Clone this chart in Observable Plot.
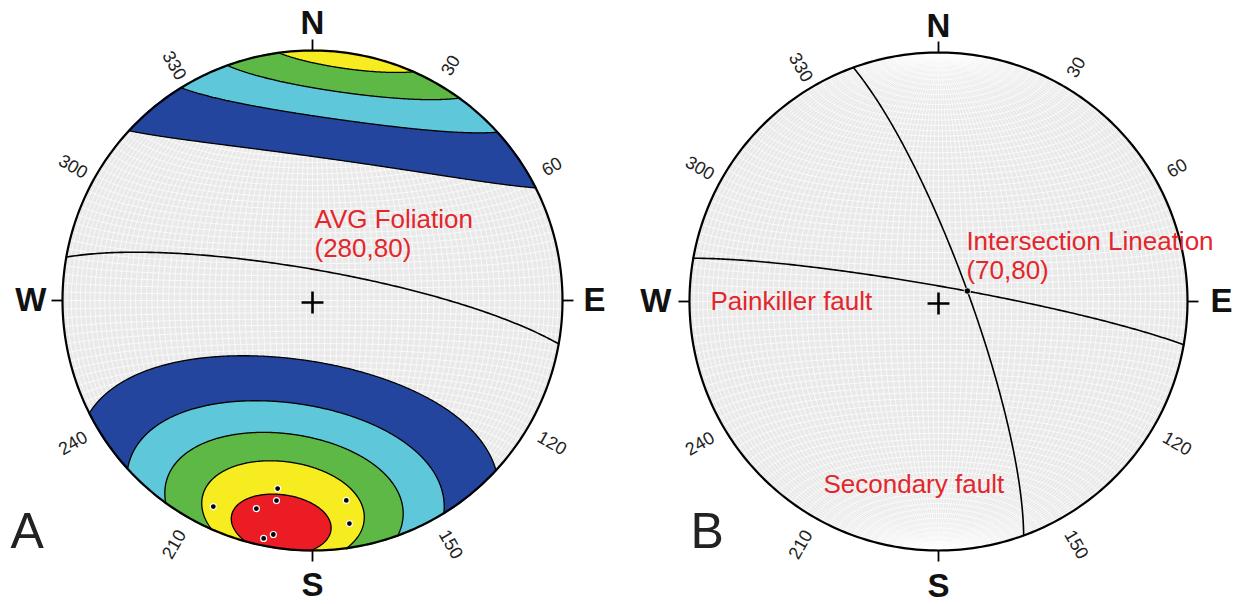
<!DOCTYPE html>
<html><head><meta charset="utf-8">
<script src="https://cdn.jsdelivr.net/npm/d3@7"></script>
<script src="https://cdn.jsdelivr.net/npm/@observablehq/plot@0.6"></script>
<style>
body{margin:0;background:#fff;}
#row{display:flex;width:1241px;height:604px;overflow:hidden;}
#row svg{display:block;flex:none;}
</style></head><body><div id="row"></div>
<script>
// ---------------- data ----------------
const compassLabels = ["N", "E", "S", "W"];
const compassAzimuths = [0, 90, 180, 270];
const azimuthTicks = [30, 60, 120, 150, 210, 240, 300, 330];

// Net A: average foliation plane (strike, dip; right-hand rule)
const foliationStrike = [280];
const foliationDip = [80];
// Net A: poles to foliation (trend, plunge)
const poleTrend = [205.7, 190.5, 190.2, 195.1, 170.4, 170.6, 191.6, 189.5];
const polePlunge = [9.4, 24.5, 19.8, 14.9, 20.0, 10.5, 3.2, 5.7];
// Net A: density contours as cones (axis trend/plunge, half angle)
const contourTrend = [188, 188, 188, 188, 188];
const contourPlunge = [14, 14, 14, 14, 10];
const contourAngle = [56.4, 41.7, 31, 21, 12.5];
const contourWraps = [true, true, true, true, false];

// Net B: faults (strike, dip; right-hand rule) and intersection lineation
const faultNames = ["Painkiller fault", "Secondary fault"];
const faultStrike = [280, 340];
const faultDip = [85, 80];
const lineationTrend = [70];
const lineationPlunge = [80];

// ---------------- styles ----------------
const contourColors = ["#23459d", "#5ec8da", "#5db846", "#f6ec20", "#ec1c24"];
const RED = "#e3262c";
const FONT = "'Liberation Sans', Arial, Helvetica, sans-serif";

// ---------------- equal-area (Schmidt) lower hemisphere projection ----------------
const rad = Math.PI / 180;
function vec(trend, plunge) {
  const t = trend * rad, p = plunge * rad;
  return [Math.cos(p) * Math.cos(t), Math.cos(p) * Math.sin(t), Math.sin(p)];
}
function project(v) {
  let [n, e, d] = v;
  if (d < 0) { n = -n; e = -e; d = -d; }
  const k = 1 / Math.sqrt(1 + d);
  return [e * k, n * k];
}
function unproject(x, y) {
  let r2 = x * x + y * y;
  if (r2 > 1) { const s = 1 / Math.sqrt(r2); x *= s; y *= s; r2 = 1; }
  const d = 1 - r2, k = Math.sqrt(1 + d);
  return [y * k, x * k, d];
}
function greatCircle(strike, dip) {
  const s = vec(strike, 0), dv = vec(strike + 90, dip);
  return d3.range(0, 180.001, 1).map(l => {
    const c = Math.cos(l * rad), sn = Math.sin(l * rad);
    const [x, y] = project([c * s[0] + sn * dv[0], c * s[1] + sn * dv[1], c * s[2] + sn * dv[2]]);
    return {x, y};
  });
}
function netGrid() {
  const rows = [];
  let id = 0;
  for (let dip = 2; dip <= 90; dip += 2) {
    for (const strike of (dip === 90 ? [0] : [0, 180])) {
      for (const p of greatCircle(strike, dip)) rows.push({id, ...p});
      id++;
    }
  }
  for (let b = 2; b < 180; b += 2) {
    for (let f = 0; f <= 180; f += 2) {
      const [x, y] = project([Math.cos(b * rad), Math.sin(b * rad) * Math.cos(f * rad), Math.sin(b * rad) * Math.sin(f * rad)]);
      rows.push({id, x, y});
    }
    id++;
  }
  return rows;
}
const grid = netGrid();
const primitive = d3.range(0, 360.001, 1).map(a => { const [x, y] = project(vec(a, 0)); return {x, y}; });

function capValue(i) {
  const c = vec(contourTrend[i], contourPlunge[i]);
  const wrap = contourWraps[i];
  return (x, y) => {
    if (x * x + y * y > 1.04 * 1.04) return -2; // outside the net (hidden under the mask)
    const v = unproject(x, y);
    const dot = v[0] * c[0] + v[1] * c[1] + v[2] * c[2];
    return wrap ? Math.abs(dot) : dot;
  };
}

// ---------------- common net pieces ----------------
function baseMarks(R) {
  return [
    Plot.dot([{x: 0, y: 0}], {x: "x", y: "y", r: R, fill: "#e9e9e9", stroke: "none"}),
    Plot.line(grid, {x: "x", y: "y", z: "id", stroke: "#ffffff", strokeWidth: 0.7, curve: "linear"})
  ];
}
function frameMarks(R, o) {
  const tickLen = 1 + 11 / R;
  const lblR = 1 + 26.5 / R;
  return [
    Plot.line(primitive, {x: "x", y: "y", stroke: "black", strokeWidth: 2.2}),
    Plot.link(compassAzimuths, {
      x1: a => Math.sin(a * rad), y1: a => Math.cos(a * rad),
      x2: a => tickLen * Math.sin(a * rad), y2: a => tickLen * Math.cos(a * rad),
      stroke: "black", strokeWidth: 1.8
    }),
    Plot.dot([{x: 0, y: 0}], {x: "x", y: "y", symbol: "plus", r: 7.1, stroke: "black", strokeWidth: 2.6, dy: 2}),
    Plot.text(azimuthTicks, {
      x: a => lblR * Math.sin(a * rad), y: a => lblR * Math.cos(a * rad),
      text: a => String(a),
      rotate: a => (a < 180 ? a - 90 : a - 270),
      dy: 4.5, fontSize: 18, fill: "#222", textAnchor: "middle", lineAnchor: "middle"
    }),
    Plot.text([0], {x: 0, y: 1, text: () => compassLabels[0], dy: o.nDy, fontSize: 33, fontWeight: "bold", fill: "#111", textAnchor: "middle", lineAnchor: "middle"}),
    Plot.text([0], {x: 0, y: -1, text: () => compassLabels[2], dy: o.sDy, fontSize: 33, fontWeight: "bold", fill: "#111", textAnchor: "middle", lineAnchor: "middle"}),
    Plot.text([0], {x: 1, y: 0, text: () => compassLabels[1], dx: o.eDx, fontSize: 33, fontWeight: "bold", fill: "#111", textAnchor: "start", lineAnchor: "middle"}),
    Plot.text([0], {x: -1, y: 0, text: () => compassLabels[3], dx: o.wDx, fontSize: 33, fontWeight: "bold", fill: "#111", textAnchor: "end", lineAnchor: "middle"})
  ];
}
function mask(R) {
  return Plot.dot([{x: 0, y: 0}], {x: "x", y: "y", r: R + 17, fill: "none", stroke: "white", strokeWidth: 32});
}
function makePlot(W, cx, cy, R, marks) {
  const H = 604;
  return Plot.plot({
    width: W, height: H,
    marginLeft: cx - R, marginRight: W - cx - R,
    marginTop: cy - R, marginBottom: H - cy - R,
    x: {domain: [-1, 1], axis: null},
    y: {domain: [-1, 1], axis: null},
    style: {fontFamily: FONT, background: "white", overflow: "visible"},
    marks
  });
}

// ---------------- Net A ----------------
const RA = 250;
const poles = poleTrend.map((t, i) => { const [x, y] = project(vec(t, polePlunge[i])); return {x, y}; });
const foliationLine = greatCircle(foliationStrike[0], foliationDip[0]);
const contourMarks = contourAngle.map((a, i) => Plot.contour({
  x1: -1.06, y1: -1.06, x2: 1.06, y2: 1.06,
  value: capValue(i), thresholds: [Math.cos(a * rad)],
  fill: contourColors[i], stroke: "black", strokeWidth: 1.3, pixelSize: 1
}));
const annA = [
  {x: 0.008, y: 0.368, text: `AVG Foliation\n(${foliationStrike[0]},${foliationDip[0]})`, size: 26, fill: RED, weight: "normal"},
  {x: -1.208, y: -0.836, text: "A", size: 50, fill: "#222", weight: "normal"}
];
const plotA = makePlot(620, 312, 300, RA, [
  ...baseMarks(RA),
  ...contourMarks,
  mask(RA),
  Plot.line(foliationLine, {x: "x", y: "y", stroke: "black", strokeWidth: 1.6}),
  Plot.dot(poles, {x: "x", y: "y", r: 3, fill: "black", stroke: "white", strokeWidth: 1.2}),
  ...frameMarks(RA, {nDy: -27, sDy: 35, eDx: 21, wDx: -16}),
  ...annA.map(d => Plot.text([d], {x: "x", y: "y", text: "text", fontSize: d.size, fill: d.fill, fontWeight: d.weight, textAnchor: "start", lineAnchor: "top", lineHeight: 1.08}))
]);

// ---------------- Net B ----------------
const RB = 249;
const faultLines = faultStrike.flatMap((s, i) => greatCircle(s, faultDip[i]).map(p => ({name: faultNames[i], ...p})));
const lineation = lineationTrend.map((t, i) => { const [x, y] = project(vec(t, lineationPlunge[i])); return {x, y}; });
const annB = [
  {x: 0.112, y: 0.285, text: `Intersection Lineation\n(${lineationTrend[0]},${lineationPlunge[0]})`, size: 26, fill: RED},
  {x: -0.916, y: 0.044, text: faultNames[0], size: 26, fill: RED},
  {x: -0.462, y: -0.687, text: faultNames[1], size: 26, fill: RED},
  {x: -0.996, y: -0.835, text: "B", size: 50, fill: "#222"}
];
const plotB = makePlot(621, 318, 301, RB, [
  ...baseMarks(RB),
  Plot.line(faultLines, {x: "x", y: "y", z: "name", stroke: "black", strokeWidth: 1.6}),
  Plot.dot(lineation, {x: "x", y: "y", r: 3.2, fill: "black", stroke: "white", strokeWidth: 0.8}),
  ...frameMarks(RB, {nDy: -26, sDy: 36, eDx: 23, wDx: -18}),
  ...annB.map(d => Plot.text([d], {x: "x", y: "y", text: "text", fontSize: d.size, fill: d.fill, textAnchor: "start", lineAnchor: "top", lineHeight: 1.08}))
]);

const row = document.getElementById("row");
row.appendChild(plotA);
row.appendChild(plotB);
</script>
</body></html>
